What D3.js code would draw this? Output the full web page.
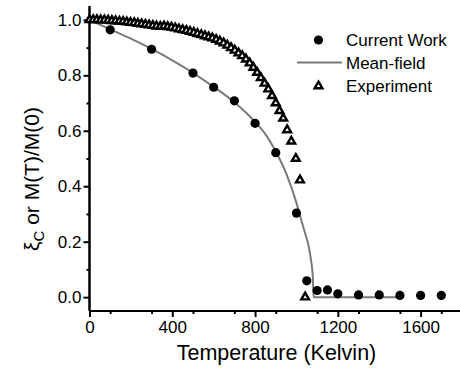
<!DOCTYPE html>
<html>
<head>
<meta charset="utf-8">
<script src="https://cdn.jsdelivr.net/npm/d3@7"></script>
<style>
  body { margin: 0; background: #fff; }
  svg { display: block; }
  text { font-family: Arial, "Liberation Sans", sans-serif; fill: #000; }
</style>
</head>
<body>
<div id="chart"></div>
<script>
// Current Work (filled circles)
const workT = [100, 300, 500, 600, 700, 800, 900, 1000, 1050, 1100, 1150, 1200, 1300, 1400, 1500, 1600, 1700];
const workM = [0.964, 0.894, 0.808, 0.757, 0.708, 0.627, 0.521, 0.303, 0.059, 0.024, 0.026, 0.012, 0.008, 0.008, 0.006, 0.006, 0.006];

// Mean-field (grey line)
const mfT = [0, 100, 200, 300, 400, 500, 600, 700, 800, 850, 900, 950, 1000, 1015, 1040, 1060, 1070, 1079, 1083, 1500];
const mfM = [1.0, 0.966, 0.932, 0.895, 0.854, 0.809, 0.758, 0.703, 0.632, 0.588, 0.525, 0.447, 0.340, 0.300, 0.235, 0.180, 0.135, 0.074, 0.0, 0.0];

// Experiment (open triangles)
const expT = [0, 18, 36, 54, 72, 90, 108, 126, 144, 162, 180, 198, 216, 234, 252, 270, 288, 306, 324, 342,
  360, 378, 396, 414, 432, 450, 468, 486, 504, 522, 540, 558, 576, 594, 612, 630, 648, 666, 684, 702,
  720, 738, 756, 774, 792, 810, 828, 846, 864, 882, 900, 918, 936, 955, 975, 997, 1017, 1042];
const expM = [1.0, 1.0, 1.0, 0.999, 0.999, 0.998, 0.997, 0.996, 0.995, 0.994, 0.992, 0.990, 0.989, 0.987, 0.985, 0.983, 0.981, 0.979, 0.977, 0.976,
  0.977, 0.975, 0.973, 0.970, 0.967, 0.964, 0.961, 0.958, 0.954, 0.950, 0.946, 0.942, 0.938, 0.934, 0.929, 0.923, 0.916, 0.908, 0.899, 0.890,
  0.880, 0.870, 0.858, 0.844, 0.828, 0.810, 0.791, 0.771, 0.750, 0.726, 0.700, 0.672, 0.645, 0.603, 0.562, 0.500, 0.422, 0.0];

const xTicks = [0, 400, 800, 1200, 1600];
const yTicks = [0.0, 0.2, 0.4, 0.6, 0.8, 1.0];
const legendLabels = ['Current Work', 'Mean-field', 'Experiment'];

const width = 460, height = 371;

const svg = d3.select('#chart').append('svg')
  .attr('width', width)
  .attr('height', height);

const x = d3.scaleLinear().domain([0, 1800]).range([89.5, 462]);
const y = d3.scaleLinear().domain([-0.05, 1.05]).range([311, 6]);

// axes
const xAxis = svg.append('g')
  .attr('transform', 'translate(0,' + y(-0.05) + ')')
  .call(d3.axisBottom(x).tickValues(xTicks).tickSize(6).tickPadding(4).tickFormat(d3.format('d')));
xAxis.append('g')
  .call(d3.axisBottom(x).tickValues(d3.range(100, 1800, 200)).tickSize(3).tickFormat(''));

const yAxis = svg.append('g')
  .attr('transform', 'translate(' + x(0) + ',0)')
  .call(d3.axisLeft(y).tickValues(yTicks).tickSize(6).tickPadding(2).tickFormat(d3.format('.1f')));
yAxis.append('g')
  .call(d3.axisLeft(y).tickValues([0.1, 0.3, 0.5, 0.7, 0.9]).tickSize(3).tickFormat(''));

svg.selectAll('.domain').attr('stroke', '#000').attr('stroke-width', 2);
svg.selectAll('.tick line').attr('stroke', '#000').attr('stroke-width', 2);
svg.selectAll('.tick text').style('font-size', '17px').attr('fill', '#111');

xAxis.selectAll('.domain').attr('d', 'M' + x(0) + ',0H' + width);
yAxis.selectAll('.domain').attr('d', 'M0,' + y(-0.05) + 'V' + y(1.05));

svg.append('text')
  .attr('x', 276.5)
  .attr('y', 360)
  .attr('text-anchor', 'middle')
  .style('font-size', '21.5px')
  .text('Temperature (Kelvin)');

const yTitle = svg.append('text')
  .attr('transform', 'translate(39,179) rotate(-90)')
  .attr('text-anchor', 'middle')
  .style('font-size', '21px');
yTitle.append('tspan').text('ξ');
yTitle.append('tspan').attr('dy', 5).style('font-size', '15px').text('C');
yTitle.append('tspan').attr('dy', -5).text(' or M(T)/M(0)');

// mean-field line
const mfData = mfT.map((t, i) => ({t: t, m: mfM[i]}));
svg.append('path')
  .datum(mfData)
  .attr('fill', 'none')
  .attr('stroke', '#7a7a7a')
  .attr('stroke-width', 2)
  .attr('d', d3.line().x(d => x(d.t)).y(d => y(d.m)).curve(d3.curveMonotoneX));

// experiment triangles
const tri = d3.symbol().type(d3.symbolTriangle).size(26);
svg.selectAll('.exp')
  .data(expT.map((t, i) => ({t: t, m: expM[i]})))
  .enter().append('path')
    .attr('class', 'exp')
    .attr('transform', d => 'translate(' + x(d.t) + ',' + y(d.m) + ')')
    .attr('d', tri)
    .attr('fill', '#fff')
    .attr('stroke', '#000')
    .attr('stroke-width', 2.4)
    .attr('stroke-linejoin', 'miter');

// current work circles
svg.selectAll('.work')
  .data(workT.map((t, i) => ({t: t, m: workM[i]})))
  .enter().append('circle')
    .attr('class', 'work')
    .attr('cx', d => x(d.t))
    .attr('cy', d => y(d.m))
    .attr('r', 4.6)
    .attr('fill', '#000');

// legend
const legend = svg.append('g');
legend.append('circle').attr('cx', 318.5).attr('cy', 40).attr('r', 4.6).attr('fill', '#000');
legend.append('line')
  .attr('x1', 297).attr('x2', 342).attr('y1', 62.5).attr('y2', 62.5)
  .attr('stroke', '#7a7a7a').attr('stroke-width', 2);
legend.append('path')
  .attr('transform', 'translate(318.5,86)')
  .attr('d', tri)
  .attr('fill', '#fff')
  .attr('stroke', '#000')
  .attr('stroke-width', 2.4);
legend.selectAll('.lab')
  .data(legendLabels)
  .enter().append('text')
    .attr('class', 'lab')
    .attr('x', 346)
    .attr('y', (d, i) => 40 + i * 23)
    .attr('dy', '0.35em')
    .style('font-size', '17px')
    .text(d => d);
</script>
</body>
</html>
